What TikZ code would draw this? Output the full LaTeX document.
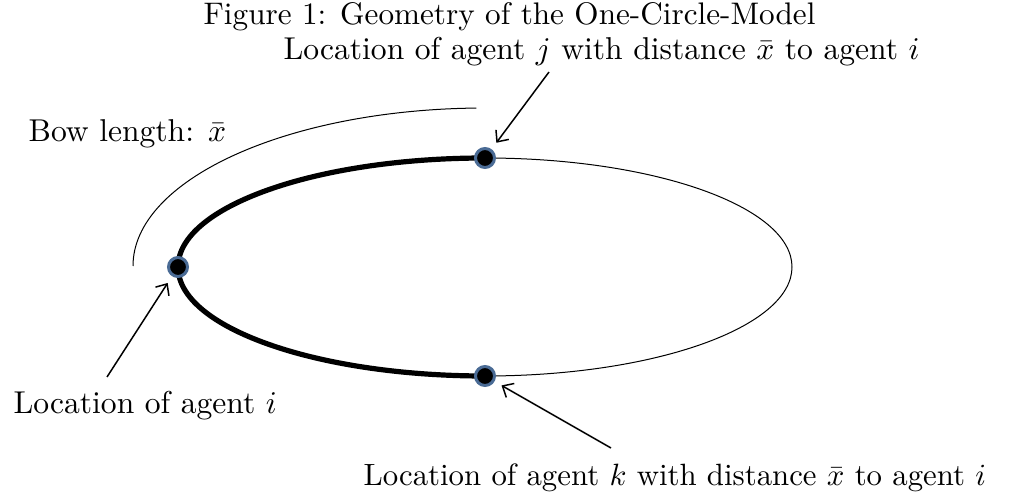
\documentclass[tikz,border=0pt]{standalone}
\usepackage{amsmath}
\usepackage{xcolor}
\usepackage{tikz}
\usetikzlibrary{arrows.meta}
\definecolor{ringblue}{HTML}{4A6B95}
\tikzset{
  >={Straight Barb[length=4.5pt,width=8pt]},
  pointer/.style={->,line width=.75pt},
  orbit/.style={line width=.5pt},
  bowline/.style={line width=2.6pt},
  agent/.style={circle,fill=black,draw=ringblue,line width=1.5pt,minimum size=9.5pt,inner sep=0pt},
  lab/.style={anchor=base west,inner sep=0pt,font=\fontsize{10}{12}\selectfont,scale=1.58,transform shape}
}
\begin{document}
\begin{tikzpicture}[x=0.5pt,y=-0.5pt]
  \useasboundingbox (0,0) rectangle (1012,497);
  % circle of the model
  \coordinate (top) at (485,158);
  \coordinate (left) at (178,267);
  \coordinate (bottom) at (485,376);
  \draw[orbit] (485,267) ellipse [x radius=307,y radius=109];
  \draw[bowline] (top) arc[start angle=270,end angle=90,x radius=307,y radius=109];
  % bow
  \coordinate (bowstart) at (133,266);
  \draw[orbit] (bowstart) arc[start angle=180,end angle=268.6,x radius=352,y radius=158];
  % agents
  \node[agent] (pj) at (top) {};
  \node[agent] (pi) at (left) {};
  \node[agent] (pk) at (bottom) {};
  % texts
  \node[lab,scale=1.56/1.58] (title) at (203,25) {Figure 1: Geometry of the One-Circle-Model};
  \node[lab] (labj) at (283,60) {Location of agent $j$ with distance $\bar{x}$ to agent $i$};
  \node[lab] (labbow) at (28,142) {Bow length: $\bar{x}$};
  \node[lab] (labi) at (13,413) {Location of agent $i$};
  \node[lab,scale=1.54/1.58] (labk) at (363,485) {Location of agent $k$ with distance $\bar{x}$ to agent $i$};
  % pointers
  \coordinate (tailj) at (549,72);
  \coordinate (taili) at (107,377);
  \coordinate (tailk) at (611,448);
  \draw[pointer,shorten >=4pt] (tailj) -- (pj);
  \draw[pointer,shorten >=4pt] (taili) -- (pi);
  \draw[pointer,shorten >=4pt] (tailk) -- (pk);
\end{tikzpicture}
\end{document}
